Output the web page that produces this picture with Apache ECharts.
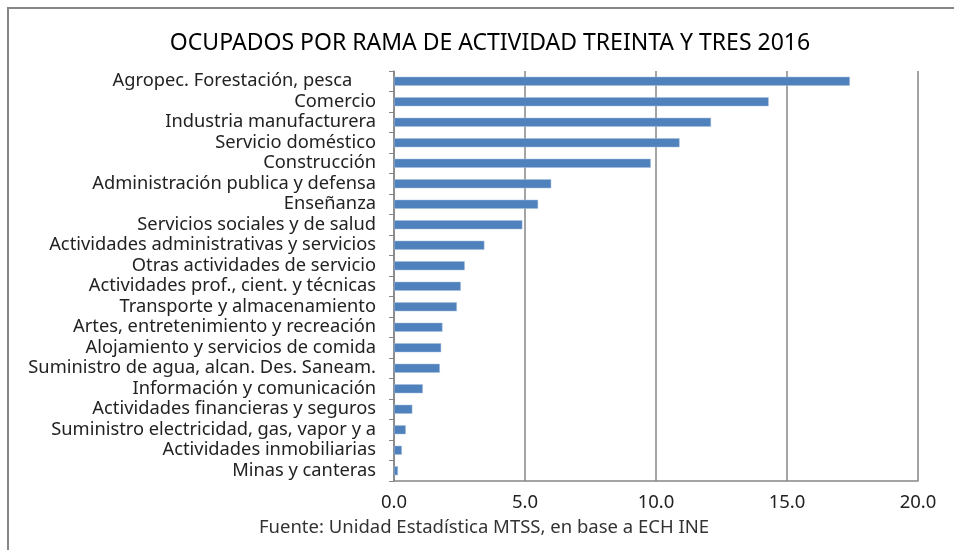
<!DOCTYPE html>
<html>
<head>
<meta charset="utf-8">
<script src="https://cdn.jsdelivr.net/npm/echarts@6/dist/echarts.min.js"></script>
<style>
  html, body { margin: 0; padding: 0; background: #fff; }
  #chart { width: 954px; height: 550px; }
</style>
</head>
<body>
<div id="chart"></div>
<script>
// ramas de actividad, de mayor a menor
const categories = [
  'Agropec. Forestación, pesca     ',
  'Comercio',
  'Industria manufacturera',
  'Servicio doméstico',
  'Construcción',
  'Administración publica y defensa',
  'Enseñanza',
  'Servicios sociales y de salud',
  'Actividades administrativas y servicios',
  'Otras actividades de servicio',
  'Actividades prof., cient. y técnicas',
  'Transporte y almacenamiento',
  'Artes, entretenimiento y recreación',
  'Alojamiento y servicios de comida',
  'Suministro de agua, alcan. Des. Saneam.',
  'Información y comunicación',
  'Actividades financieras y seguros',
  'Suministro electricidad, gas, vapor y a',
  'Actividades inmobiliarias',
  'Minas y canteras'
]
const ocupados = [
  17.4, 14.3, 12.1, 10.9, 9.8, 6.0, 5.5, 4.9, 3.45, 2.7,
  2.55, 2.4, 1.85, 1.8, 1.75, 1.1, 0.7, 0.45, 0.3, 0.15
]
const xTicks = ['0.0', '5.0', '10.0', '15.0', '20.0']

const font = 'Noto Sans'
const chart = echarts.init(document.getElementById('chart'))
const option = {
  animation: false,
  backgroundColor: '#fff',
  title: {
    text: 'OCUPADOS POR RAMA DE ACTIVIDAD TREINTA Y TRES 2016',
    left: 485,
    top: 27,
    textAlign: 'center',
    textStyle: { fontFamily: font, fontSize: 23, fontWeight: 'normal', color: '#000' }
  },
  graphic: [
    {
      type: 'rect',
      shape: { x: 8, y: 8, width: 1000, height: 600 },
      style: { fill: 'none', stroke: '#868686', lineWidth: 2 },
      silent: true
    },
    {
      type: 'text',
      x: 484,
      y: 528,
      style: {
        text: 'Fuente: Unidad Estadística MTSS, en base a ECH INE',
        font: '18.5px "Noto Sans"',
        fill: '#333',
        align: 'center',
        verticalAlign: 'middle'
      }
    }
  ],
  grid: { left: 394, right: 36, top: 71, bottom: 69 },
  xAxis: {
    type: 'value',
    min: 0,
    max: 20,
    interval: 5,
    axisLine: { show: true, lineStyle: { color: '#868686', width: 1.5 } },
    axisTick: { show: false },
    splitLine: { show: true, lineStyle: { color: '#868686', width: 1.5 } },
    axisLabel: {
      margin: 12,
      fontFamily: font,
      fontSize: 18.5,
      color: '#222',
      formatter: function (v) { return xTicks[v / 5] }
    }
  },
  yAxis: {
    type: 'category',
    inverse: true,
    data: categories,
    axisLine: { show: true, lineStyle: { color: '#868686', width: 1.5 } },
    axisTick: { show: true, length: 5, lineStyle: { color: '#868686' } },
    axisLabel: {
      interval: 0,
      margin: 18,
      fontFamily: font,
      fontSize: 18.3,
      lineHeight: 20,
      color: '#222'
    }
  },
  series: [
    {
      type: 'bar',
      data: ocupados,
      barWidth: 9,
      itemStyle: { color: '#4F81BD', borderColor: '#A7BEDD', borderWidth: 0.5 }
    }
  ]
}
chart.setOption(option)
</script>
</body>
</html>
